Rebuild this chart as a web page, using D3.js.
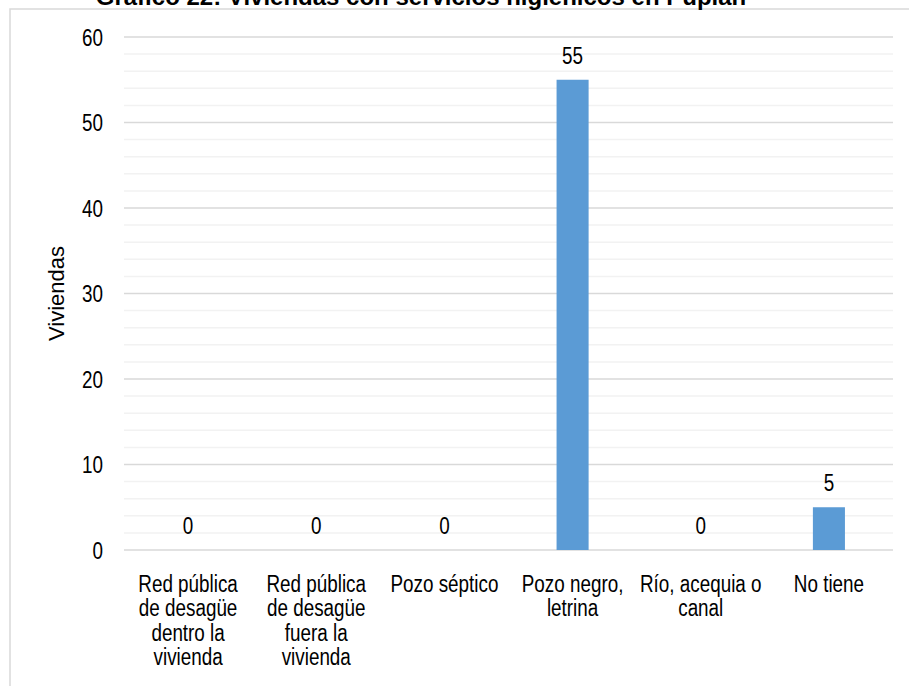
<!DOCTYPE html>
<html><head><meta charset="utf-8">
<script src="https://cdn.jsdelivr.net/npm/d3@7"></script>
<style>
html,body{margin:0;padding:0;background:#fff;overflow:hidden}
svg{display:block}
text{font-family:"Liberation Sans Narrow","Arial Narrow","Liberation Sans",Arial,sans-serif}
</style></head>
<body>
<svg id="chart" width="909" height="686"></svg>
<script>
const categories = [
  ["Red pública","de desagüe","dentro la","vivienda"],
  ["Red pública","de desagüe","fuera la","vivienda"],
  ["Pozo séptico"],
  ["Pozo negro,","letrina"],
  ["Río, acequia o","canal"],
  ["No tiene"]
];
const values = [0, 0, 0, 55, 0, 5];
const yTicks = [0, 10, 20, 30, 40, 50, 60];
const minorTicks = d3.range(0, 61, 2);
const titleText = "Gráfico 22: Viviendas con servicios higiénicos en Pupián";
const yTitle = "Viviendas";

const svg = d3.select("#chart");
const W = 909, H = 686;
const m = {left:124, right:893, top:37, bottom:550};
const fs = 23;        // label font size
const sx = 0.82;      // horizontal condensation (narrow font look)

// chart border
svg.append("rect").attr("x",10).attr("y",9).attr("width",W).attr("height",H)
  .attr("fill","none").attr("stroke","#d9d9d9").attr("stroke-width",1.5);

// title (cut off at top as in reference)
svg.append("text").attr("x",421).attr("y",5).attr("text-anchor","middle")
  .attr("font-weight","bold").attr("font-size",24).attr("fill","#000").text(titleText);

const x = d3.scaleBand().domain(d3.range(categories.length)).range([m.left,m.right]).paddingInner(0).paddingOuter(0);
const y = d3.scaleLinear().domain([0,60]).range([m.bottom,m.top]);

// minor grid
svg.append("g").selectAll("line").data(minorTicks.filter(d=>d%10!==0)).join("line")
  .attr("x1",m.left).attr("x2",m.right).attr("y1",d=>y(d)).attr("y2",d=>y(d))
  .attr("stroke","#f2f2f2").attr("stroke-width",1.5);
// major grid
svg.append("g").selectAll("line").data(yTicks).join("line")
  .attr("x1",m.left).attr("x2",m.right).attr("y1",d=>y(d)).attr("y2",d=>y(d))
  .attr("stroke","#d9d9d9").attr("stroke-width",1.5);

// y axis labels
const yAxis = d3.axisLeft(y).tickValues(yTicks).tickSize(0).tickPadding(0).tickFormat(d3.format("d"));
const ya = svg.append("g").attr("transform",`translate(${m.left-21},0)`).call(yAxis);
ya.select(".domain").remove();
ya.selectAll("text").attr("font-size",fs).attr("fill","#000").attr("font-family",null)
  .attr("x",0).attr("dy","0.36em").attr("transform",`scale(${sx},1)`);

// y title
svg.append("text").attr("transform",`translate(64,${(m.top+m.bottom)/2}) rotate(-90)`)
  .attr("text-anchor","middle").attr("font-size",22).attr("fill","#000").text(yTitle);

// bars
const bw = x.bandwidth()*0.25;
svg.append("g").selectAll("rect").data(values).join("rect")
  .attr("x",(d,i)=>x(i)+x.bandwidth()/2-bw/2).attr("width",bw)
  .attr("y",d=>y(d)).attr("height",d=>y(0)-y(d)).attr("fill","#5b9bd5");

// data labels
svg.append("g").selectAll("g").data(values).join("g")
  .attr("transform",(d,i)=>`translate(${x(i)+x.bandwidth()/2},${y(d)-16}) scale(${sx},1)`)
  .append("text").attr("text-anchor","middle").attr("font-size",fs).attr("fill","#000").text(d=>d);

// category labels
const cg = svg.append("g").selectAll("g").data(categories).join("g")
  .attr("transform",(d,i)=>`translate(${x(i)+x.bandwidth()/2},592) scale(${sx},1)`)
  .append("text").attr("text-anchor","middle").attr("font-size",fs).attr("fill","#000");
cg.selectAll("tspan").data(d=>d).join("tspan")
  .attr("x",0).attr("dy",(d,i)=>i===0?0:24.3).text(d=>d);
</script>
</body></html>
